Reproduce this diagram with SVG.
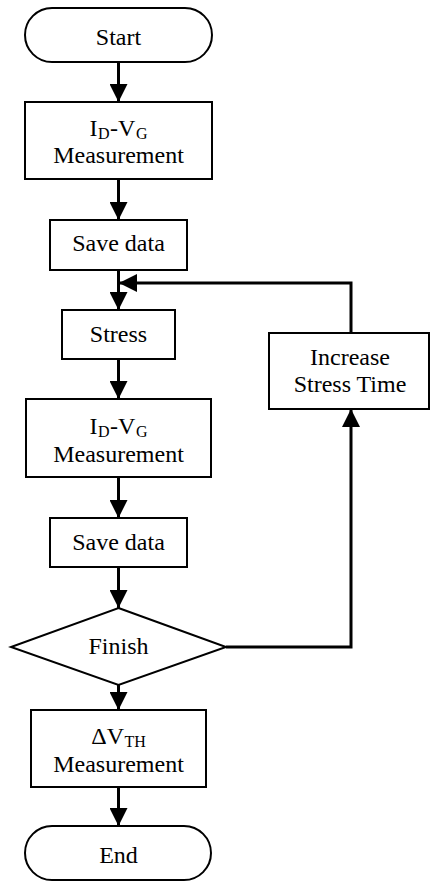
<svg xmlns="http://www.w3.org/2000/svg" width="430" height="882" viewBox="0 0 430 882">
<style>
.shape{fill:#fff;stroke:#000;stroke-width:2}
.t{font-family:'Liberation Serif','Tinos','Times New Roman','DejaVu Serif',serif;font-size:24px;fill:#000;text-anchor:middle}
.sub{font-size:16px}
.conn{fill:none;stroke:#000;stroke-width:3}
</style>
<defs>
<marker id="arr" markerUnits="userSpaceOnUse" markerWidth="18" markerHeight="18" viewBox="0 0 16 16" refX="16" refY="8" orient="auto">
<path d="M0,0 L16,8 L0,16 Z" fill="#000"/>
</marker>
</defs>
<rect width="430" height="882" fill="#fff"/>
<g id="connectors">
<line class="conn" x1="118.5" y1="62" x2="118.5" y2="102" marker-end="url(#arr)"/>
<line class="conn" x1="118.5" y1="179" x2="118.5" y2="220" marker-end="url(#arr)"/>
<line class="conn" x1="118.5" y1="270" x2="118.5" y2="310" marker-end="url(#arr)"/>
<path class="conn" d="M351,333 V283 H119" marker-end="url(#arr)"/>
<line class="conn" x1="118.5" y1="359" x2="118.5" y2="399" marker-end="url(#arr)"/>
<line class="conn" x1="118.5" y1="477" x2="118.5" y2="518" marker-end="url(#arr)"/>
<line class="conn" x1="118.5" y1="567" x2="118.5" y2="608" marker-end="url(#arr)"/>
<path class="conn" d="M226,647 H351 V409" marker-end="url(#arr)"/>
<line class="conn" x1="118.5" y1="685" x2="118.5" y2="710" marker-end="url(#arr)"/>
<line class="conn" x1="118.5" y1="787" x2="118.5" y2="826" marker-end="url(#arr)"/>
</g>
<g id="start">
<rect class="shape" x="25" y="8" width="187" height="54" rx="27"/>
<text class="t" x="118.5" y="45">Start</text>
</g>
<g id="measure1">
<rect class="shape" x="25" y="102" width="187" height="77"/>
<text class="t" x="118.5" y="136">I<tspan class="sub" dx="0.5" dy="3">D</tspan><tspan dx="0.5" dy="-3">-V</tspan><tspan class="sub" dx="0.5" dy="3">G</tspan></text>
<text class="t" x="118.5" y="163">Measurement</text>
</g>
<g id="save1">
<rect class="shape" x="50" y="220" width="137" height="50"/>
<text class="t" x="118.5" y="251">Save data</text>
</g>
<g id="stress">
<rect class="shape" x="62" y="310" width="113" height="49"/>
<text class="t" x="118.5" y="342">Stress</text>
</g>
<g id="measure2">
<rect class="shape" x="26" y="399" width="185" height="78"/>
<text class="t" x="118.5" y="434">I<tspan class="sub" dx="0.5" dy="3">D</tspan><tspan dx="0.5" dy="-3">-V</tspan><tspan class="sub" dx="0.5" dy="3">G</tspan></text>
<text class="t" x="118.5" y="462">Measurement</text>
</g>
<g id="save2">
<rect class="shape" x="50" y="518" width="137" height="49"/>
<text class="t" x="118.5" y="550">Save data</text>
</g>
<g id="finish">
<polygon class="shape" points="118.5,608 226,647 118.5,685 11,647"/>
<text class="t" x="118.5" y="654">Finish</text>
</g>
<g id="increase">
<rect class="shape" x="269" y="333" width="160" height="76"/>
<text class="t" x="350" y="365">Increase</text>
<text class="t" x="350" y="392">Stress Time</text>
</g>
<g id="dvth">
<rect class="shape" x="31" y="710" width="175" height="77"/>
<text class="t" x="118.5" y="744">ΔV<tspan class="sub" dx="0.5" dy="3">TH</tspan></text>
<text class="t" x="118.5" y="772">Measurement</text>
</g>
<g id="end">
<rect class="shape" x="25" y="826" width="186" height="54" rx="27"/>
<text class="t" x="118.5" y="863">End</text>
</g>
</svg>
